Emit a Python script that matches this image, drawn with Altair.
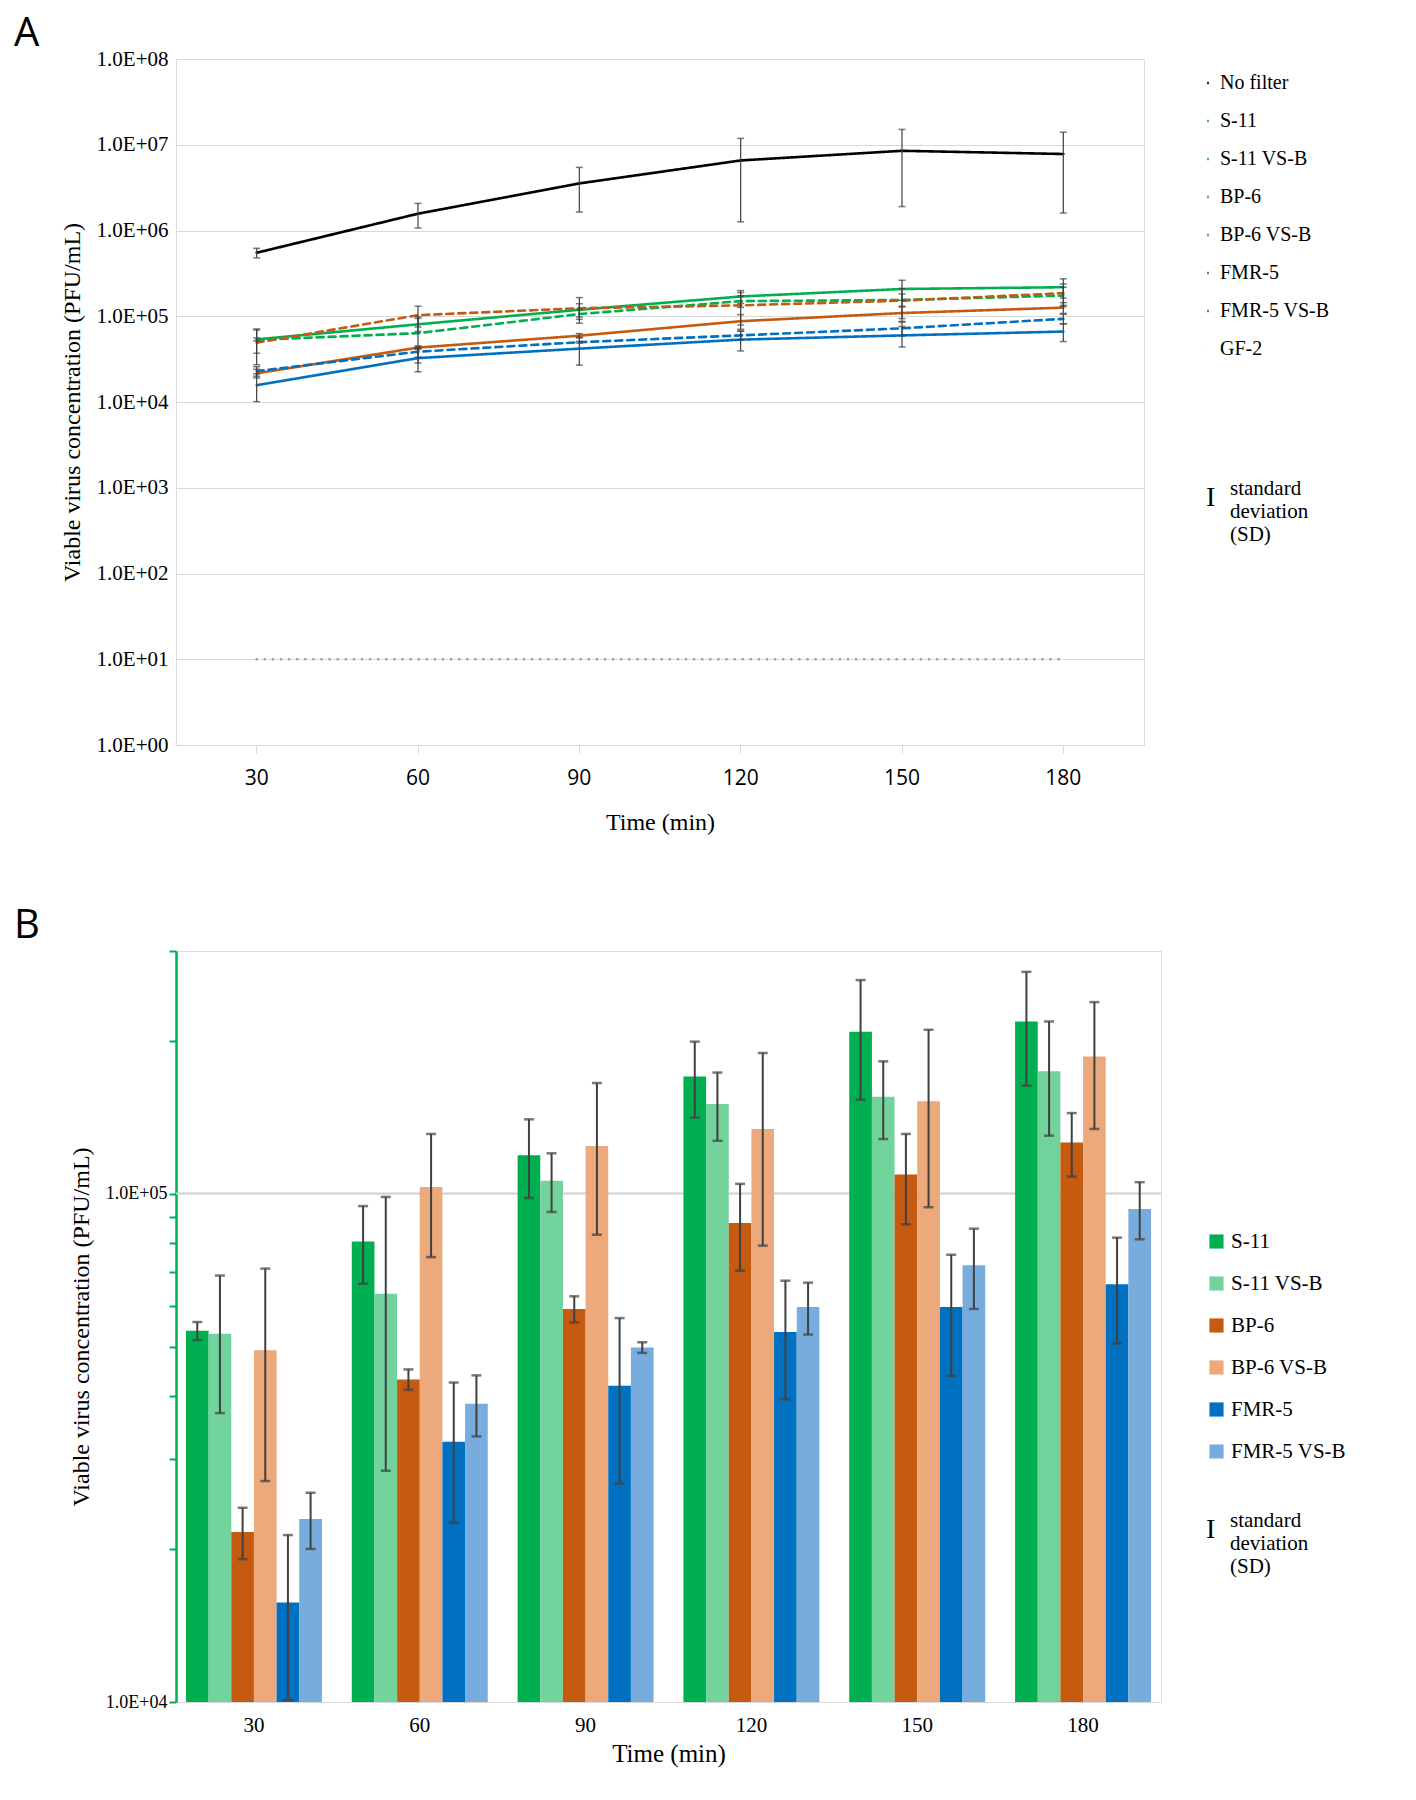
import altair as alt
import pandas as pd

times = [30, 60, 90, 120, 150, 180]

# means and standard deviations (PFU/mL)
no_filter = [5.5e5, 1.57e6, 3.54e6, 6.56e6, 8.5e6, 7.8e6]
no_filter_sd = [0.7e5, 0.5e6, 1.9e6, 5.3e6, 6.6e6, 6.2e6]
s11 = [5.37e4, 8.05e4, 1.19e5, 1.70e5, 2.08e5, 2.18e5]
s11_sd = [0.22e4, 1.4e4, 2.1e4, 2.9e4, 5.5e4, 5.5e4]
s11_vsb = [5.3e4, 6.35e4, 1.06e5, 1.50e5, 1.55e5, 1.74e5]
s11_vsb_sd = [1.6e4, 3.5e4, 1.4e4, 2.3e4, 2.7e4, 4.4e4]
bp6 = [2.16e4, 4.31e4, 5.93e4, 8.75e4, 1.09e5, 1.26e5]
bp6_sd = [0.25e4, 0.2e4, 0.35e4, 1.7e4, 2.2e4, 1.8e4]
bp6_vsb = [4.92e4, 1.03e5, 1.24e5, 1.34e5, 1.52e5, 1.86e5]
bp6_vsb_sd = [2.2e4, 2.8e4, 4.1e4, 5.5e4, 5.8e4, 5.2e4]
fmr5 = [1.57e4, 3.25e4, 4.19e4, 5.34e4, 5.98e4, 6.63e4]
fmr5_sd = [0.56e4, 1.0e4, 1.5e4, 1.4e4, 1.6e4, 1.56e4]
fmr5_vsb = [2.29e4, 3.86e4, 4.98e4, 5.98e4, 7.23e4, 9.33e4]
fmr5_vsb_sd = [0.29e4, 0.53e4, 0.12e4, 0.7e4, 1.3e4, 1.2e4]
gf2 = [10, 10, 10, 10, 10, 10]

series_a = ["No filter", "S-11", "S-11 VS-B", "BP-6", "BP-6 VS-B", "FMR-5", "FMR-5 VS-B", "GF-2"]
values = [no_filter, s11, s11_vsb, bp6, bp6_vsb, fmr5, fmr5_vsb, gf2]
sds = [no_filter_sd, s11_sd, s11_vsb_sd, bp6_sd, bp6_vsb_sd, fmr5_sd, fmr5_vsb_sd, [0] * 6]

colors_a = ["#000000", "#00b050", "#00b050", "#c55a11", "#c55a11", "#0070c0", "#0070c0", "#999999"]
dashes_a = [[1, 0], [1, 0], [7, 5], [1, 0], [7, 5], [1, 0], [7, 5], [0.1, 8]]
widths_a = [2.6, 2.6, 2.6, 2.6, 2.6, 2.6, 2.6, 4.5]

rows = []
for s, v, sd in zip(series_a, values, sds):
    for t, m, e in zip(times, v, sd):
        rows.append({"series": s, "time": t, "mean": m, "lo": m - e, "hi": m + e, "sd": e})
df = pd.DataFrame(rows)

serif = "Liberation Serif"
sci = "replace(format(datum.value,'.1e'),'e+','E+0')"
one = pd.DataFrame({"t": ["standard\ndeviation\n(SD)"]})

xa = alt.X("time:O", title="Time (min)",
           scale=alt.Scale(paddingInner=0, paddingOuter=0),
           axis=alt.Axis(labelAngle=0, labelFont="Open Sans", labelFontSize=21,
                         titleFont=serif, titleFontSize=24, titleFontWeight="normal",
                         titlePadding=22, labelPadding=14, domainColor="#d9d9d9",
                         tickColor="#d9d9d9", tickSize=8, grid=False))
ya_scale = alt.Scale(type="log", domain=[1, 1e8])
ya_axis = alt.Axis(values=[10 ** i for i in range(9)], labelExpr=sci, labelFont=serif,
                   labelFontSize=21, title="Viable virus concentration (PFU/mL)",
                   titleFont=serif, titleFontSize=24, titleFontWeight="normal", titlePadding=12,
                   domain=False, ticks=False, gridColor="#d9d9d9", labelPadding=8)

lines = alt.Chart(df).mark_line(strokeCap="round").encode(
    x=xa,
    y=alt.Y("mean:Q", scale=ya_scale, axis=ya_axis),
    color=alt.Color("series:N", scale=alt.Scale(domain=series_a, range=colors_a),
                    sort=series_a,
                    legend=alt.Legend(title=None, orient="none", legendX=1022, legendY=14,
                                      symbolType="stroke", symbolSize=600, symbolStrokeWidth=2.6,
                                      labelFont=serif, labelFontSize=20, rowPadding=18,
                                      labelOffset=2)),
    strokeDash=alt.StrokeDash("series:N", scale=alt.Scale(domain=series_a, range=dashes_a),
                              sort=series_a, legend=None),
    size=alt.Size("series:N", scale=alt.Scale(domain=series_a, range=widths_a),
                  sort=series_a, legend=None),
)
err_df = df[df.series != "GF-2"]
err_a = alt.Chart(err_df).mark_rule(color="#404040", strokeWidth=1.2).encode(
    x="time:O", y=alt.Y("lo:Q", scale=ya_scale), y2="hi:Q")
cap_lo_a = alt.Chart(err_df).mark_tick(color="#404040", size=7, thickness=1.5).encode(
    x="time:O", y=alt.Y("lo:Q", scale=ya_scale))
cap_hi_a = alt.Chart(err_df).mark_tick(color="#404040", size=7, thickness=1.5).encode(
    x="time:O", y=alt.Y("hi:Q", scale=ya_scale))


def sd_note(x, y):
    bar = alt.Chart(one).mark_text(text="I", font=serif, fontSize=28, align="left",
                                   baseline="top").encode(x=alt.value(x), y=alt.value(y))
    txt = alt.Chart(one).mark_text(font=serif, fontSize=21, align="left", baseline="top",
                                   lineBreak="\n", lineHeight=23).encode(
        x=alt.value(x + 24), y=alt.value(y - 6), text="t:N")
    return bar + txt


def letter(s, y):
    return alt.Chart(one).mark_text(text=s, font="Open Sans", fontSize=40, align="left",
                                    baseline="top").encode(x=alt.value(-162), y=alt.value(y))


panel_a = alt.layer(lines, err_a, cap_lo_a, cap_hi_a, sd_note(1030, 425),
                    letter("A", -45)).properties(width=968, height=686)

# panel B
series_b = series_a[1:7]
colors_b = ["#00b050", "#72d39c", "#c55a11", "#eba97c", "#0070c0", "#78acdc"]
df_b = df[df.series.isin(series_b)]
yb_scale = alt.Scale(type="log", domain=[1e4, 3e5])
tick_vals = [i * 1e4 for i in range(1, 10)] + [1e5, 2e5, 3e5]
yb_axis = alt.Axis(values=tick_vals,
                   labelExpr="datum.value==10000 || datum.value==100000 ? " + sci + " : ''",
                   labelFont=serif, labelFontSize=18, title="Viable virus concentration (PFU/mL)",
                   titleFont=serif, titleFontSize=24, titleFontWeight="normal", titlePadding=12,
                   grid=False, domainColor="#00b050", domainWidth=2.5, tickColor="#00b050",
                   tickWidth=2, tickSize=7)
xb = alt.X("time:O", title="Time (min)",
           scale=alt.Scale(paddingInner=0.18, paddingOuter=0.06),
           axis=alt.Axis(labelAngle=0, labelFont=serif, labelFontSize=21, titleFont=serif,
                         titleFontSize=25, titleFontWeight="normal", titlePadding=6,
                         domainColor="#d9d9d9", ticks=False, labelPadding=12))
xoff = alt.XOffset("series:N", sort=series_b, scale=alt.Scale(domain=series_b))

bars = alt.Chart(df_b).mark_bar().encode(
    x=xb, xOffset=xoff,
    y=alt.Y("mean:Q", scale=yb_scale, axis=yb_axis),
    y2=alt.datum(1e4),
    color=alt.Color("series:N", scale=alt.Scale(domain=series_b, range=colors_b), sort=series_b,
                    legend=alt.Legend(title=None, orient="none", legendX=1030, legendY=280,
                                      symbolType="square", symbolSize=200, labelFont=serif,
                                      labelFontSize=21, rowPadding=20)),
)
grid_b = alt.Chart(pd.DataFrame({"g": [1e5]})).mark_rule(color="#d0d0d0", strokeWidth=2).encode(
    y=alt.Y("g:Q", scale=yb_scale))
err_b = alt.Chart(df_b).mark_rule(color="#404040", strokeWidth=2).encode(
    x="time:O", xOffset=xoff, y=alt.Y("lo:Q", scale=yb_scale), y2="hi:Q")
cap_lo_b = alt.Chart(df_b).mark_tick(color="#404040", size=10, thickness=2.5).encode(
    x="time:O", xOffset=xoff, y=alt.Y("lo:Q", scale=yb_scale))
cap_hi_b = alt.Chart(df_b).mark_tick(color="#404040", size=10, thickness=2.5).encode(
    x="time:O", xOffset=xoff, y=alt.Y("hi:Q", scale=yb_scale))

panel_b = alt.layer(grid_b, bars, err_b, cap_lo_b, cap_hi_b, sd_note(1030, 565),
                    letter("B", -45)).properties(width=985, height=751)

chart = alt.vconcat(panel_a, panel_b, spacing=70).resolve_scale(
    color="independent", strokeDash="independent", size="independent",
    x="independent", y="independent"
).configure_view(stroke=None).configure(background="white")

chart.save("out.html", embed_options={"renderer": "svg", "actions": False})
